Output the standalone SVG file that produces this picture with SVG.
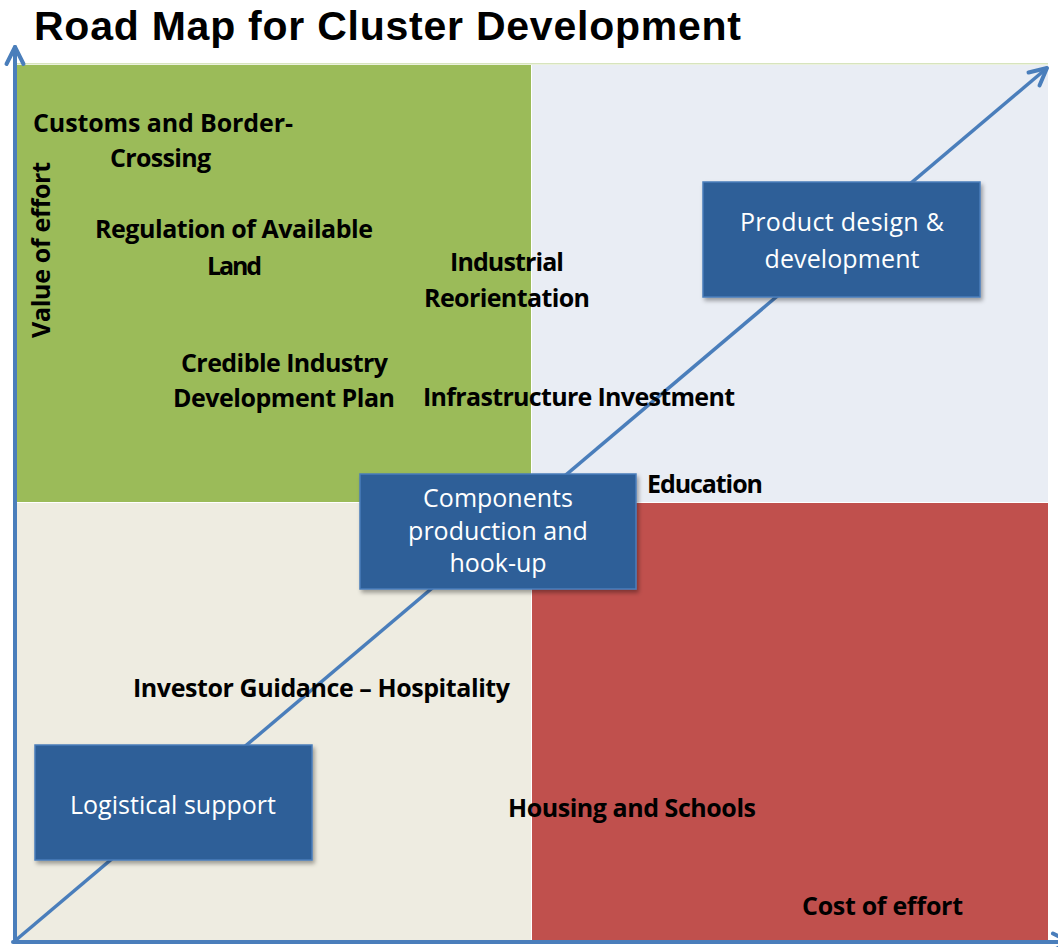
<svg xmlns="http://www.w3.org/2000/svg" width="1058" height="947" viewBox="0 0 1058 947">
<defs>
<style>
.lbl{font-family:"Open Sans","Liberation Sans",sans-serif;font-weight:bold;font-size:25px;fill:#000;}
.box{fill:#2D5E98;stroke:#4A7EBB;stroke-width:1.5;}
.btxt{font-family:"Open Sans","Liberation Sans",sans-serif;font-size:25px;fill:#fff;text-anchor:middle;}
.axis{stroke:#4A7EBB;stroke-width:4;fill:none;stroke-linecap:round;}
.diag{stroke:#4A7EBB;stroke-width:3.5;fill:none;}
.title{font-family:"Liberation Sans",Arial,sans-serif;font-weight:bold;font-size:41px;fill:#000;}
</style>
<marker id="chev" markerUnits="userSpaceOnUse" viewBox="-20 -11 24 22" refX="0" refY="0" markerWidth="24" markerHeight="22" orient="auto" overflow="visible">
<path d="M-17,-8.5 L0,0 L-17,8.5" fill="none" stroke="#4A7EBB" stroke-width="4" stroke-linecap="round" stroke-linejoin="round"/>
</marker>
<filter id="sh" x="-10%" y="-10%" width="125%" height="130%">
<feDropShadow dx="2" dy="3" stdDeviation="2" flood-color="#000" flood-opacity="0.35"/>
</filter>
</defs>
<rect width="1058" height="947" fill="#fff"/>
<text class="title" x="34" y="40" textLength="707">Road Map for Cluster Development</text>
<g id="quadrants">
<rect x="17" y="63" width="1031" height="1.5" fill="#D7E4BD"/>
<rect x="17" y="65" width="514" height="437" fill="#9BBB59"/>
<rect x="532" y="65" width="516" height="437" fill="#E9EDF4"/>
<rect x="17" y="503" width="514" height="437" fill="#EEECE1"/>
<rect x="532" y="503" width="516" height="437" fill="#C0504D"/>
</g>
<g id="connectors">
<line class="axis" x1="15" y1="942" x2="15" y2="47" marker-end="url(#chev)"/>
<line class="axis" x1="13" y1="942" x2="1070" y2="942" marker-end="url(#chev)"/>
<line class="diag" x1="16" y1="940" x2="1047" y2="68" marker-end="url(#chev)"/>
</g>
<g id="labels">
<text class="lbl" x="33" y="132" textLength="260">Customs and Border-</text>
<text class="lbl" x="110" y="167" textLength="101">Crossing</text>
<text class="lbl" x="95" y="238" textLength="278">Regulation of Available</text>
<text class="lbl" x="207" y="275" textLength="55">Land</text>
<text class="lbl" x="181" y="372" textLength="207">Credible Industry</text>
<text class="lbl" x="173" y="407" textLength="222">Development Plan</text>
<text class="lbl" x="450" y="271" textLength="114">Industrial</text>
<text class="lbl" x="424" y="307" textLength="166">Reorientation</text>
<text class="lbl" x="423" y="406" textLength="312">Infrastructure Investment</text>
<text class="lbl" x="647" y="493" textLength="116">Education</text>
<text class="lbl" x="133" y="697" textLength="377">Investor Guidance  – Hospitality</text>
<text class="lbl" x="508" y="817" textLength="248">Housing and Schools</text>
<text class="lbl" x="802" y="915" textLength="161">Cost of effort</text>
<text class="lbl" transform="translate(50,250) rotate(-90)" text-anchor="middle" textLength="176">Value of effort</text>
</g>
<g id="node-components">
<rect class="box" x="360" y="474" width="276" height="115" filter="url(#sh)"/>
<text class="btxt" x="498" y="507">Components</text>
<text class="btxt" x="498" y="540">production and</text>
<text class="btxt" x="498" y="572">hook-up</text>
</g>
<g id="node-product">
<rect class="box" x="703" y="182" width="277" height="115" filter="url(#sh)"/>
<text class="btxt" x="842" y="231" textLength="204">Product design &amp;</text>
<text class="btxt" x="842" y="268" textLength="155">development</text>
</g>
<g id="node-logistical">
<rect class="box" x="35" y="745" width="277" height="115" filter="url(#sh)"/>
<text class="btxt" x="173" y="814" textLength="206">Logistical support</text>
</g>
</svg>
